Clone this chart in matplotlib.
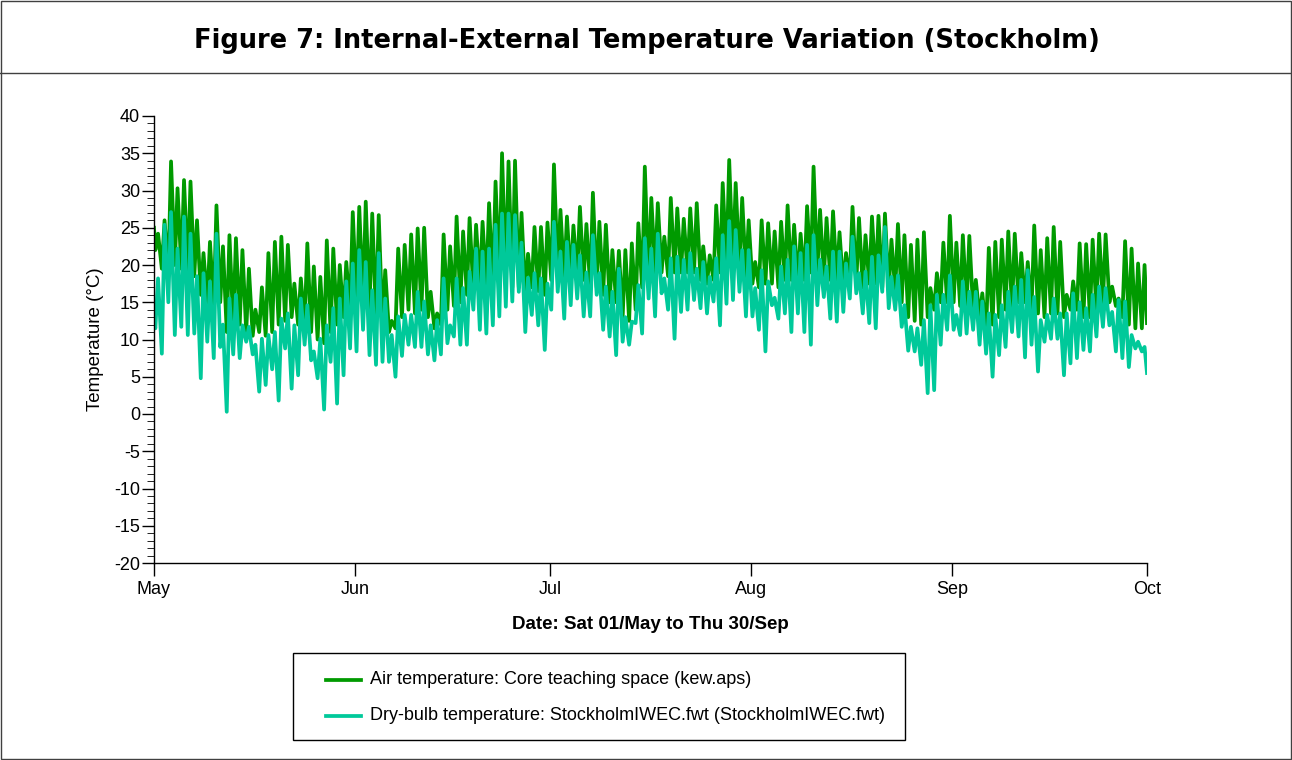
import matplotlib
matplotlib.use("Agg")
import matplotlib.pyplot as plt
from matplotlib.lines import Line2D
from matplotlib.patches import Rectangle
from matplotlib.ticker import MultipleLocator

# daily extremes, day 0 = 1 May ... day 152 = 30 Sep
AIR_MAX = [
    24.2, 26.0, 33.9, 30.3, 31.4, 31.2, 26.0, 21.6, 23.1, 28.0,
    22.5, 24.0, 23.6, 22.0, 19.5, 14.0, 17.0, 21.6, 23.1, 23.8,
    22.7, 17.5, 18.2, 22.9, 19.8, 18.4, 23.3, 22.2, 20.0, 20.4,
    27.1, 27.8, 28.5, 26.9, 26.7, 19.3, 12.5, 22.2, 22.7, 24.1,
    24.9, 25.0, 16.4, 13.5, 24.1, 22.5, 26.5, 24.5, 26.3, 25.4,
    25.8, 28.3, 31.2, 35.0, 33.9, 34.0, 27.0, 21.5, 25.1, 25.1,
    25.7, 33.5, 27.4, 26.5, 25.3, 27.8, 25.5, 29.7, 25.8, 25.4,
    22.0, 21.9, 22.0, 22.9, 25.6, 33.2, 29.0, 28.3, 23.8, 29.0,
    27.6, 26.2, 27.6, 28.3, 22.5, 21.3, 28.0, 31.0, 34.1, 31.0,
    29.0, 26.0, 20.4, 26.0, 25.6, 24.5, 25.8, 28.0, 25.4, 24.2,
    27.9, 33.2, 27.4, 26.3, 27.2, 24.4, 21.6, 27.8, 26.3, 24.0,
    26.5, 26.6, 26.9, 23.4, 25.5, 24.0, 22.7, 23.4, 24.4, 16.9,
    18.9, 23.0, 26.6, 23.0, 24.0, 23.9, 18.0, 16.2, 22.3, 23.1,
    23.4, 24.5, 24.2, 21.6, 20.4, 25.3, 22.0, 23.6, 25.1, 23.1,
    16.0, 17.8, 22.9, 22.8, 23.4, 24.2, 24.1, 17.1, 15.5, 23.2,
    22.2, 20.2, 20.0,
]
AIR_MIN = [
    22.0, 19.5, 19.0, 20.0, 19.5, 19.0, 18.5, 16.0, 15.0, 14.5,
    15.0, 11.0, 12.0, 12.0, 11.0, 10.5, 11.0, 10.5, 11.0, 12.0,
    12.5, 13.0, 12.0, 12.0, 11.0, 10.0, 9.5, 11.0, 12.0, 13.0,
    14.0, 15.0, 15.0, 14.0, 13.0, 12.0, 11.0, 11.5, 13.0, 14.0,
    13.5, 14.0, 13.0, 11.5, 12.0, 14.0, 14.5, 15.0, 16.0, 16.5,
    17.0, 17.0, 17.0, 18.0, 18.0, 17.0, 17.0, 16.0, 17.0, 16.5,
    16.0, 18.0, 19.0, 18.0, 18.0, 18.5, 18.0, 17.0, 17.0, 16.0,
    15.0, 15.0, 13.0, 12.5, 14.0, 17.0, 18.0, 19.0, 19.0, 18.5,
    19.0, 19.0, 19.0, 19.0, 18.0, 17.5, 18.0, 19.0, 20.0, 20.0,
    19.5, 18.5, 17.5, 17.0, 17.5, 17.5, 17.0, 18.0, 18.0, 17.5,
    18.0, 19.0, 19.0, 18.0, 18.0, 18.0, 17.0, 18.0, 17.5, 17.0,
    17.5, 17.5, 17.0, 16.5, 16.5, 15.0, 13.0, 12.5, 12.0, 13.0,
    14.0, 15.0, 15.0, 15.0, 14.5, 14.5, 14.0, 13.0, 11.0, 12.0,
    13.0, 14.0, 14.0, 15.0, 15.0, 14.0, 13.5, 13.0, 13.5, 13.5,
    13.0, 14.0, 14.0, 13.0, 13.0, 14.0, 15.0, 15.0, 14.5, 13.0,
    12.0, 11.5, 11.5,
]
DRY_MAX = [
    18.2, 25.4, 27.1, 22.2, 26.5, 24.2, 18.5, 18.9, 17.8, 24.2,
    12.0, 15.5, 16.0, 11.9, 11.7, 9.3, 10.1, 10.6, 11.0, 12.8,
    13.5, 11.9, 15.5, 14.6, 8.4, 10.1, 11.9, 14.2, 15.5, 17.8,
    20.2, 22.0, 20.4, 16.6, 21.6, 15.5, 10.6, 13.1, 13.3, 13.3,
    16.4, 15.1, 11.9, 12.6, 18.2, 11.9, 18.2, 16.9, 19.1, 22.2,
    21.8, 22.2, 25.4, 26.9, 26.9, 26.7, 23.0, 18.3, 18.9, 18.2,
    17.5, 25.8, 21.8, 23.1, 22.7, 21.3, 19.0, 24.0, 18.9, 17.1,
    16.4, 19.5, 13.0, 12.4, 17.3, 23.6, 22.2, 24.2, 18.2, 20.9,
    21.1, 20.7, 21.6, 19.5, 20.4, 18.4, 20.9, 24.0, 25.9, 24.7,
    22.0, 22.0, 16.9, 19.3, 17.8, 15.6, 19.8, 20.7, 22.5, 21.6,
    22.7, 24.0, 20.7, 19.8, 21.8, 21.8, 20.2, 23.8, 18.9, 19.1,
    21.1, 21.3, 25.1, 18.4, 18.6, 14.6, 11.7, 11.5, 12.6, 14.6,
    16.0, 16.0, 18.6, 13.3, 17.8, 16.4, 16.4, 15.1, 13.5, 13.3,
    14.6, 16.4, 17.1, 18.0, 19.3, 15.7, 12.6, 13.3, 15.5, 13.5,
    13.5, 16.2, 15.0, 14.2, 16.0, 17.1, 16.9, 13.7, 15.3, 15.1,
    10.6, 9.7, 9.0,
]
DRY_MIN = [
    11.5, 8.1, 15.0, 10.6, 11.7, 10.6, 10.8, 4.8, 9.7, 7.5,
    9.0, 0.3, 8.0, 7.5, 9.7, 8.0, 3.0, 3.9, 6.0, 1.8,
    8.8, 3.4, 5.2, 9.3, 7.2, 4.8, 0.6, 7.0, 1.4, 5.2,
    8.8, 8.4, 11.3, 7.9, 6.6, 7.0, 7.0, 5.0, 7.8, 9.3,
    9.0, 9.0, 8.0, 7.2, 8.0, 9.5, 10.4, 9.3, 9.3, 14.0,
    11.3, 10.8, 11.9, 13.1, 14.4, 15.1, 16.4, 11.0, 13.3, 11.9,
    8.6, 14.0, 16.4, 12.8, 14.6, 15.5, 13.1, 13.1, 16.0, 11.3,
    10.4, 7.9, 9.7, 9.3, 12.2, 10.8, 15.5, 13.1, 16.2, 14.0,
    10.1, 13.7, 14.0, 15.3, 14.2, 13.5, 15.1, 11.9, 14.8, 15.3,
    16.4, 13.1, 13.1, 11.3, 8.4, 14.6, 12.8, 13.5, 11.0, 13.5,
    11.0, 9.3, 14.6, 15.7, 12.8, 12.4, 13.7, 15.5, 16.2, 13.5,
    12.2, 11.5, 16.4, 14.2, 14.0, 11.7, 8.5, 8.4, 6.6, 2.8,
    3.2, 9.3, 11.3, 11.3, 10.6, 10.8, 11.3, 9.3, 8.1, 5.0,
    7.9, 9.0, 11.0, 10.4, 7.6, 9.3, 5.7, 9.7, 10.1, 10.1,
    5.2, 6.8, 7.5, 8.6, 8.4, 10.4, 11.7, 11.9, 8.4, 7.5,
    6.3, 8.8, 8.4,
]
AIR_START, AIR_END = 25.0, 12.2
DRY_START, DRY_END = 12.5, 5.5
HOUR_MIN, HOUR_MAX = 5, 15          # typical hour of daily low / high

MONTHS = ["May", "Jun", "Jul", "Aug", "Sep", "Oct"]
MONTH_START = [0, 31, 61, 92, 123, 153]

LABELS = ["Air temperature: Core teaching space (kew.aps)",
          "Dry-bulb temperature: StockholmIWEC.fwt (StockholmIWEC.fwt)"]
GREEN = "#009a00"
CYAN = "#00c99a"
W, H = 1292, 760


def series(start, lows, highs, end):
    t, v = [0.0], [start]
    for d, (lo, hi) in enumerate(zip(lows, highs)):
        t += [d + HOUR_MIN / 24, d + HOUR_MAX / 24]
        v += [lo, hi]
    t.append(float(len(lows)))
    v.append(end)
    return t, v


def fx(px):
    return px / W


def fy(py):
    return 1 - py / H


def box(x0, y0, x1, y1, **kw):
    # rectangle given in pixel corners (top-left origin), drawn in figure coords
    return Rectangle((fx(x0), fy(y1)), fx(x1) - fx(x0), fy(y0) - fy(y1),
                     transform=plt.gcf().transFigure, fill=False, lw=1.0, **kw)


def main():
    plt.rcParams["font.family"] = ["Liberation Sans", "DejaVu Sans"]
    plt.rcParams["axes.unicode_minus"] = False
    fig = plt.figure(figsize=(W / 100, H / 100), dpi=100)

    # outer frame and title band
    fig.patches.append(box(1, 1, W - 1.5, H - 1.5, ec="#404040"))
    fig.lines.append(Line2D([0, 1], [fy(73)] * 2, transform=fig.transFigure,
                            color="#404040", lw=1.0))
    fig.text(fx(647), fy(41), "Figure 7: Internal-External Temperature Variation (Stockholm)",
             ha="center", va="center", fontsize=18.5, fontweight="bold", family="DejaVu Sans")

    ax = fig.add_axes([fx(154), fy(563), fx(1147) - fx(154), fy(116) - fy(563)])
    ta, va = series(AIR_START, AIR_MIN, AIR_MAX, AIR_END)
    td, vd = series(DRY_START, DRY_MIN, DRY_MAX, DRY_END)
    l1, = ax.plot(ta, va, color=GREEN, lw=2.7, solid_joinstyle="round")
    l2, = ax.plot(td, vd, color=CYAN, lw=2.7, solid_joinstyle="round")

    ax.set_xlim(MONTH_START[0], MONTH_START[-1])
    ax.set_ylim(-20, 40)
    ax.set_xticks(MONTH_START)
    ax.set_xticklabels(MONTHS)
    ax.yaxis.set_major_locator(MultipleLocator(5))
    ax.yaxis.set_minor_locator(MultipleLocator(1))
    ax.tick_params(axis="both", labelsize=13, color="black", width=1.0)
    ax.tick_params(axis="y", which="major", length=9, pad=1)
    ax.tick_params(axis="y", which="minor", length=5)
    ax.tick_params(axis="x", which="major", length=9, pad=4)
    for s in ("top", "right"):
        ax.spines[s].set_visible(False)
    for s in ("left", "bottom"):
        ax.spines[s].set_color("black")
        ax.spines[s].set_linewidth(1.0)

    ax.set_ylabel("Temperature (°C)", fontsize=13.5, labelpad=7)
    ax.set_xlabel("Date: Sat 01/May to Thu 30/Sep", fontsize=13.5, fontweight="bold", labelpad=13)

    # legend box below the axes
    fig.patches.append(box(293, 653, 905, 740, ec="black"))
    for line, label, py in zip((l1, l2), LABELS, (680, 716)):
        fig.lines.append(Line2D([fx(326), fx(361)], [fy(py)] * 2, transform=fig.transFigure,
                                color=line.get_color(), lw=2.7))
        fig.text(fx(370), fy(py), label, ha="left", va="center", fontsize=13)

    fig.savefig("out.png", dpi=100)


if __name__ == "__main__":
    main()
